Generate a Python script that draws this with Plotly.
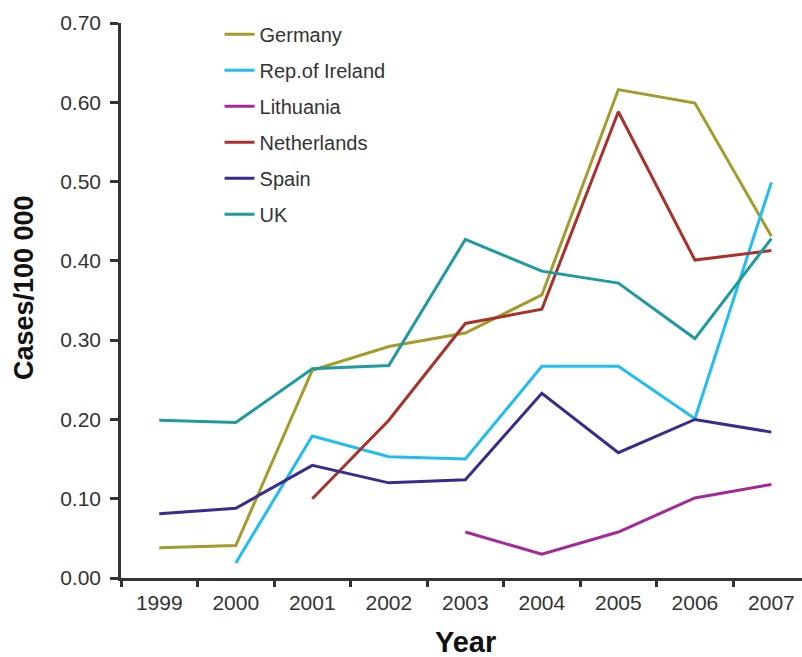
import plotly.graph_objects as go

years = ["1999", "2000", "2001", "2002", "2003", "2004", "2005", "2006", "2007"]

germany = [0.038, 0.041, 0.262, 0.292, 0.309, 0.357, 0.616, 0.599, 0.431]
ireland = [None, 0.019, 0.179, 0.153, 0.150, 0.267, 0.267, 0.201, 0.499]
lithuania = [None, None, None, None, 0.058, 0.030, 0.058, 0.101, 0.118]
netherlands = [None, None, 0.100, 0.199, 0.321, 0.339, 0.588, 0.401, 0.413]
spain = [0.081, 0.088, 0.142, 0.120, 0.124, 0.233, 0.158, 0.200, 0.184]
uk = [0.199, 0.196, 0.264, 0.268, 0.427, 0.387, 0.372, 0.302, 0.428]

series = [
    ("Germany", germany, "#a19c2b"),
    ("Rep.of Ireland", ireland, "#22bdf0"),
    ("Lithuania", lithuania, "#a3299b"),
    ("Netherlands", netherlands, "#a8322b"),
    ("Spain", spain, "#3b2c8c"),
    ("UK", uk, "#1f9a9f"),
]

y_ticks = [0.0, 0.1, 0.2, 0.3, 0.4, 0.5, 0.6, 0.7]
y_tick_text = [f"{v:.2f}" for v in y_ticks]

fig = go.Figure()
for i, (name, vals, color) in enumerate(series):
    fig.add_trace(go.Scatter(
        x=years, y=vals, name=name, mode="lines",
        line=dict(color=color, width=3),
        legendgroup=f"g{i}",
        connectgaps=False,
    ))

axis_color = "#333333"
title_color = "#111111"
fig.update_layout(
    width=802, height=657,
    margin=dict(l=121, r=0, t=23, b=79),
    paper_bgcolor="white", plot_bgcolor="white",
    font=dict(family="Liberation Sans, Arial, sans-serif", color=axis_color),
    showlegend=True,
    legend=dict(
        x=0.1447, y=1.0148, xanchor="left", yanchor="top",
        font=dict(size=20, color=axis_color),
        tracegroupgap=7,
        bgcolor="rgba(0,0,0,0)",
    ),
    xaxis=dict(
        type="category", range=[-0.5, 8.4],
        showline=True, linecolor=axis_color, linewidth=2.5,
        ticks="outside", tickson="boundaries", ticklen=6, tickwidth=2.5,
        tickcolor=axis_color, showgrid=False, zeroline=False,
        tickfont=dict(size=21, color=axis_color),
        ticklabelstandoff=4,
    ),
    yaxis=dict(
        range=[0, 0.7], tickvals=y_ticks, ticktext=y_tick_text,
        showline=True, linecolor=axis_color, linewidth=2.5,
        ticks="outside", ticklen=8, tickwidth=2.5, tickcolor=axis_color,
        showgrid=False, zeroline=False,
        tickfont=dict(size=21, color=axis_color),
        ticklabelstandoff=5,
    ),
    annotations=[
        dict(text="<b>Year</b>", xref="paper", yref="paper",
             x=0.5066, y=-0.1153, xanchor="center", yanchor="middle",
             showarrow=False, font=dict(size=29, color=title_color)),
        dict(text="<b>Cases/100 000</b>", xref="paper", yref="paper",
             x=-0.1424, y=0.5225, xanchor="center", yanchor="middle",
             textangle=-90, showarrow=False,
             font=dict(size=27, color=title_color)),
    ],
)

fig.write_html("out.html")
